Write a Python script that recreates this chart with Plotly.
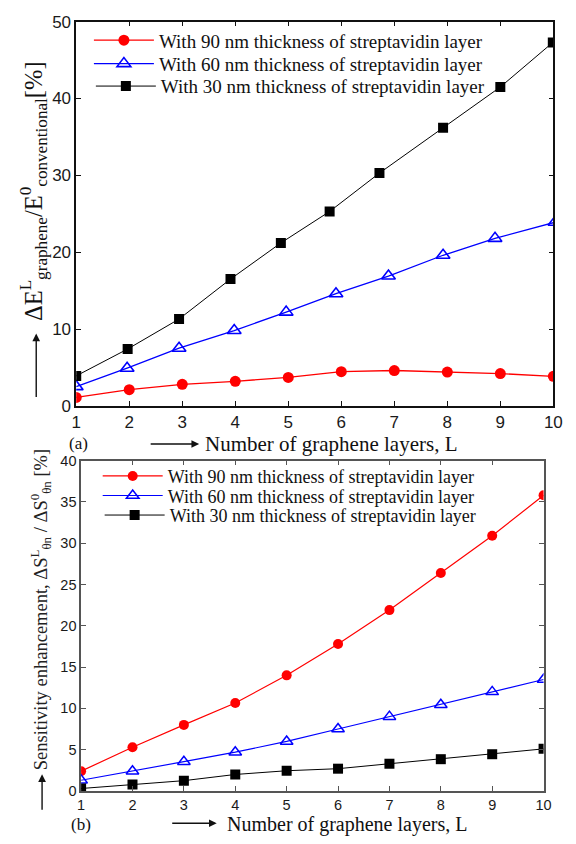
import plotly.graph_objects as go

# ---------------- data ----------------
layers = [1, 2, 3, 4, 5, 6, 7, 8, 9, 10]

# panel (a): Delta E^L_graphene / E^0_conventional [%]
a_x90 = [1, 2, 3, 4, 5, 6, 7, 8, 9, 10]
a_y90 = [1.1, 2.1, 2.8, 3.2, 3.7, 4.45, 4.6, 4.4, 4.2, 3.85]
a_x60 = [1, 1.96, 2.94, 3.98, 4.96, 5.90, 6.89, 7.92, 8.90, 10.03]
a_y60 = [2.5, 4.9, 7.5, 9.8, 12.2, 14.6, 16.9, 19.6, 21.8, 23.9]
a_x30 = [1, 1.97, 2.94, 3.91, 4.86, 5.78, 6.72, 7.92, 9.0, 9.99]
a_y30 = [3.9, 7.4, 11.3, 16.5, 21.2, 25.3, 30.3, 36.2, 41.5, 47.3]

# panel (b): sensitivity enhancement [%]
b_y90 = [2.4, 5.3, 8.0, 10.65, 14.0, 17.8, 21.9, 26.4, 30.9, 35.8]
b_y60 = [1.3, 2.4, 3.55, 4.7, 6.0, 7.5, 9.0, 10.45, 12.0, 13.5]
b_y30 = [0.3, 0.8, 1.25, 2.0, 2.45, 2.7, 3.3, 3.85, 4.45, 5.1]

names = ["With 90 nm thickness of streptavidin layer",
         "With 60 nm thickness of streptavidin layer",
         "With 30 nm thickness of streptavidin layer"]

a_ticks_y = [0, 10, 20, 30, 40, 50]
b_ticks_y = [0, 5, 10, 15, 20, 25, 30, 35, 40]

W, H = 576, 844
def px(x):
    return x / W
def py(y):
    return (H - y) / H

SERIF = "Liberation Serif, Times New Roman, serif"
SANS = "Liberation Sans, Arial, sans-serif"

fig = go.Figure()

# panel (a)
fig.add_trace(go.Scatter(x=a_x90, y=a_y90, name=names[0], mode="lines+markers",
                         line=dict(color="#ff0000", width=1.3),
                         marker=dict(symbol="circle", size=11, color="#ff0000"),
                         xaxis="x", yaxis="y", legend="legend"))
fig.add_trace(go.Scatter(x=a_x60, y=a_y60, name=names[1], mode="lines+markers",
                         line=dict(color="#0000ff", width=1.3),
                         marker=dict(symbol="triangle-up-open", size=12, color="#0000ff",
                                     line=dict(width=1.6, color="#0000ff")),
                         xaxis="x", yaxis="y", legend="legend2"))
fig.add_trace(go.Scatter(x=a_x30, y=a_y30, name=names[2], mode="lines+markers",
                         line=dict(color="#000000", width=1),
                         marker=dict(symbol="square", size=10, color="#000000"),
                         xaxis="x", yaxis="y", legend="legend3"))

# panel (b)
fig.add_trace(go.Scatter(x=layers, y=b_y90, name=names[0], mode="lines+markers",
                         line=dict(color="#ff0000", width=1.2),
                         marker=dict(symbol="circle", size=10, color="#ff0000"),
                         xaxis="x2", yaxis="y2", legend="legend4"))
fig.add_trace(go.Scatter(x=layers, y=b_y60, name=names[1], mode="lines+markers",
                         line=dict(color="#0000ff", width=1.2),
                         marker=dict(symbol="triangle-up-open", size=11, color="#0000ff",
                                     line=dict(width=1.5, color="#0000ff")),
                         xaxis="x2", yaxis="y2", legend="legend5"))
fig.add_trace(go.Scatter(x=layers, y=b_y30, name=names[2], mode="lines+markers",
                         line=dict(color="#000000", width=1),
                         marker=dict(symbol="square", size=10, color="#000000"),
                         xaxis="x2", yaxis="y2", legend="legend6"))

tickfont_a = dict(family=SANS, size=17, color="#1a1a1a")
tickfont_b = dict(family=SANS, size=14.5, color="#1a1a1a")

common_axis = dict(showgrid=False, zeroline=False, showline=True, mirror="ticks",
                   ticks="inside", ticklen=5, tickwidth=1)

def leg(xp, yp, size):
    return dict(x=px(xp), y=py(yp), xanchor="left", yanchor="middle",
                bgcolor="rgba(0,0,0,0)", borderwidth=0, itemwidth=60,
                font=dict(family=SERIF, size=size, color="#111"))

fig.update_layout(
    width=W, height=H,
    margin=dict(l=0, r=0, t=0, b=0),
    paper_bgcolor="white", plot_bgcolor="white",
    font=dict(family=SERIF, color="#111"),
    showlegend=True,
    xaxis=dict(domain=[px(73), px(562)], range=[1, 10], tickvals=layers,
               anchor="y", tickfont=tickfont_a, linecolor="#111", linewidth=1.5,
               tickcolor="#111", **common_axis),
    yaxis=dict(domain=[py(406), py(13)], range=[0, 50], tickvals=a_ticks_y,
               anchor="x", tickfont=tickfont_a, linecolor="#111", linewidth=1.5,
               tickcolor="#111", **common_axis),
    xaxis2=dict(domain=[px(78), px(552)], range=[1, 10], tickvals=layers,
                anchor="y2", tickfont=tickfont_b, linecolor="#555", linewidth=1.5,
                tickcolor="#555", **common_axis),
    yaxis2=dict(domain=[py(800), py(462)], range=[0, 40], tickvals=b_ticks_y,
                anchor="x2", tickfont=tickfont_b, linecolor="#555", linewidth=1.5,
                tickcolor="#555", **common_axis),
    legend=leg(86, 32, 19),
    legend2=leg(86, 56, 19),
    legend3=leg(88, 79, 19),
    legend4=leg(95, 478, 18),
    legend5=leg(95, 498, 18),
    legend6=leg(97, 518, 18),
)

ann = [
    dict(text="Number of graphene layers, L", x=px(334), y=py(445),
         font=dict(family=SERIF, size=21, color="#111")),
    dict(text="(a)", x=px(75), y=py(445), font=dict(family=SERIF, size=17, color="#111")),
    dict(text="Number of graphene layers, L", x=px(351), y=py(834.5),
         font=dict(family=SERIF, size=20, color="#111")),
    dict(text="(b)", x=px(78), y=py(834), font=dict(family=SERIF, size=17, color="#111")),
    dict(text="ΔE<sup>L</sup><sub>graphene</sub>/E<sup>0</sup><sub>conventional</sub>[%]",
         x=px(29), y=py(186), textangle=-90,
         font=dict(family=SERIF, size=24.5, color="#111")),
    dict(text="Sensitivity enhancement, ΔS<sup>L</sup><sub>θn</sub> / ΔS<sup>0</sup><sub>θn</sub> [%]",
         x=px(36), y=py(615), textangle=-90,
         font=dict(family=SERIF, size=18.5, color="#222")),
]
for a in ann:
    fig.add_annotation(xref="paper", yref="paper", showarrow=False,
                       xanchor="center", yanchor="middle", **a)

# decorative arrows next to the axis titles (head position, tail offset in px)
arrows = [
    (199, 445, -50, 0),   # top x title arrow
    (217, 833, -46, 0),   # bottom x title arrow
    (32, 332, 0, 65),     # top y title arrow (up)
    (38, 783, 0, 37),     # bottom y title arrow (up)
]
for hx, hy, dx, dy in arrows:
    fig.add_annotation(xref="paper", yref="paper", x=px(hx), y=py(hy),
                       ax=dx, ay=dy, text="", showarrow=True,
                       arrowhead=2, arrowsize=1.1, arrowwidth=1.4, arrowcolor="#111")

fig.write_html("out.html")
